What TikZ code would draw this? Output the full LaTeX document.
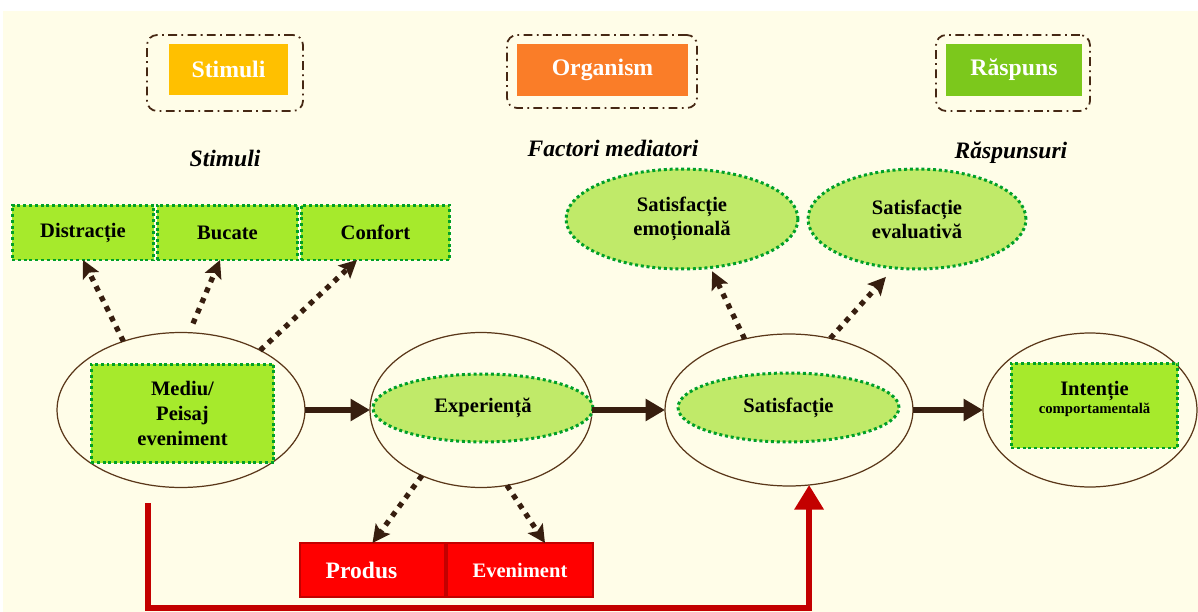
\documentclass[tikz,border=0pt]{standalone}
\usepackage{fontspec}
\setmainfont{Liberation Serif}
\usepackage{tikz}
\usetikzlibrary{arrows.meta,shapes.geometric}
\definecolor{cream}{RGB}{255,253,232}
\definecolor{framebrown}{RGB}{70,40,20}
\definecolor{stimcol}{RGB}{255,192,0}
\definecolor{orgcol}{RGB}{250,125,40}
\definecolor{raspcol}{RGB}{124,200,28}
\definecolor{limecol}{RGB}{166,234,44}
\definecolor{ovalcol}{RGB}{192,234,105}
\definecolor{dotgreen}{RGB}{0,160,40}
\definecolor{ringbrown}{RGB}{90,55,25}
\definecolor{arrowbrown}{RGB}{55,30,15}
\definecolor{fbred}{RGB}{195,0,0}

\begin{document}
\begin{tikzpicture}[x=0.02cm, y=-0.02cm,
    greenline/.style={draw=dotgreen, line width=1.7pt, dash pattern=on 1.7pt off 1.6pt,
        preaction={draw=white, line width=1.7pt}},
    bodyfont/.style={font=\fontsize{11.7}{14.2}\selectfont\bfseries}]
\useasboundingbox (0,0) rectangle (1198,612);
\fill[white] (0,0) rectangle (1198,612);
\fill[cream] (3,11) rectangle (1198,612);
\begin{scope}[every node/.style={draw=framebrown, line width=1pt, dash pattern=on 5pt off 2.5pt on 1pt off 2.5pt,
    rounded corners=0.2cm, inner sep=0pt, outer sep=0pt}]
    \node[minimum width=3.12cm, minimum height=1.52cm] (fstim) at (225,73) {};
    \node[minimum width=3.8cm, minimum height=1.46cm] (forg) at (602,71.5) {};
    \node[minimum width=3.08cm, minimum height=1.52cm] (frasp) at (1013,73) {};
\end{scope}
\begin{scope}[every node/.style={text=white, font=\fontsize{13.5}{16}\selectfont\bfseries,
    minimum height=1.03cm, inner sep=0pt}]
    \node[fill=stimcol, minimum width=2.38cm] (stim) at (228.5,69.5) {Stimuli};
    \node[fill=orgcol, minimum width=3.42cm] (org) at (602.5,70) {Organism};
    \node[fill=raspcol, minimum width=2.72cm] (rasp) at (1014,70) {Răspuns};
\end{scope}
\begin{scope}[every node/.style={font=\fontsize{13.4}{16}\selectfont\bfseries\itshape}]
    \node (lstim) at (225,158) {Stimuli};
    \node (lfact) at (613,148) {Factori mediatori};
    \node (lrasp) at (1011,153) {Răspunsuri};
\end{scope}
\begin{scope}[every node/.style={ellipse, draw=ringbrown, line width=0.7pt, inner sep=0pt, outer sep=0pt,
    minimum height=3.1cm}]
    \node[minimum width=4.96cm] (o1) at (181,410) {};
    \node[minimum width=4.44cm] (o2) at (481,410) {};
    \node[minimum width=4.96cm, minimum height=3.04cm] (o3) at (789,410) {};
    \node[minimum width=4.28cm, minimum height=3.08cm] (o4) at (1090,410) {};
\end{scope}
\begin{scope}[every node/.style={greenline, fill=limecol, bodyfont, align=center, inner sep=0pt, outer sep=0pt}]
    \node[minimum width=2.84cm, minimum height=1.1cm] (dis) at (83,232.5) {Distracție};
    \node[minimum width=2.82cm, minimum height=1.1cm] (buc) at (227.5,232.5) {Bucate};
    \node[minimum width=2.98cm, minimum height=1.1cm] (con) at (375.5,232.5) {Confort};
    \node[minimum width=3.66cm, minimum height=1.98cm] (med) at (182.5,413.5) {Mediu/\\Peisaj\\eveniment};
    \node[minimum width=3.34cm, minimum height=1.7cm] (int) at (1094.5,405.5) {};
\end{scope}
\node[bodyfont, align=center, font=\fontsize{11.7}{10.5}\selectfont\bfseries] (intt) at (1094.5,399)
    {Intenție\\{\fontsize{8.4}{10}\selectfont comportamentală}};
\begin{scope}[every node/.style={ellipse, greenline, fill=ovalcol, bodyfont, align=center, inner sep=0pt, outer sep=0pt}]
    \node[minimum width=4.4cm, minimum height=1.36cm] (exp) at (483,408) {Experiență};
    \node[minimum width=4.42cm, minimum height=1.38cm] (sat) at (788.5,407.5) {Satisfacție};
    \node[minimum width=4.64cm, minimum height=2cm, font=\fontsize{11.7}{13.7}\selectfont\bfseries] (emo) at (682,219) {Satisfacție\\emoțională};
    \node[minimum width=4.36cm, minimum height=2cm, font=\fontsize{11.7}{13.7}\selectfont\bfseries] (eva) at (917,219) {Satisfacție\\evaluativă};
\end{scope}
\begin{scope}[every node/.style={fill=red, draw=fbred, line width=1.6pt, text=white, inner sep=0pt, outer sep=0pt,
    minimum height=1.08cm}]
    \node[minimum width=2.9cm, font=\fontsize{13.4}{16}\selectfont\bfseries] (pro) at (372.5,570) {Produs\hspace*{0.44cm}};
    \node[minimum width=2.92cm, font=\fontsize{11.7}{14}\selectfont\bfseries] (eve) at (520,570) {Eveniment};
\end{scope}
\begin{scope}[>={Triangle[length=11pt,width=12pt]}, every edge/.style={draw=arrowbrown, line width=3.4pt}]
    \path [->] (o1.east) edge (o2.west);
    \path [->] (o2.east) edge (o3.west);
    \path [->] (o3.east) edge (o4.west);
\end{scope}
\begin{scope}[>={Stealth[length=10pt,width=10pt,inset=2pt]}, every edge/.style={draw=arrowbrown, line width=3pt,
    dash pattern=on 3pt off 3.4pt}]
    \path [->] (o1.130) edge (dis.south);
    \path [->] ([xshift=0.24cm,yshift=0.18cm]o1.north) edge ([xshift=-0.15cm]buc.south);
    \path [->] (o1.37) edge ([xshift=-0.37cm]con.south);
    \path [->] (o3.122) edge ([yshift=-0.08cm]emo.302);
    \path [->] (o3.60) edge ([yshift=-0.2cm]eva.237);
    \path [->] (o2.228) edge (pro.north);
    \path [->] (o2.289) edge ([xshift=0.5cm]eve.north);
\end{scope}
\coordinate (fb) at (148,503);
\draw[fbred, line width=3.4pt, -{Triangle[length=14pt,width=16pt]}] (fb) -- ++(0,105) -| (o3.285);
\end{tikzpicture}
\end{document}
